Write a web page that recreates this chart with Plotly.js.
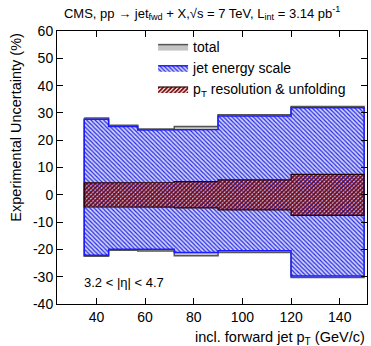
<!DOCTYPE html>
<html>
<head>
<meta charset="utf-8">
<script src="https://cdn.plot.ly/plotly-3.0.1.min.js"></script>
<style>html,body{margin:0;padding:0;background:#fff;}#chart{width:371px;height:346px;}</style>
</head>
<body>
<div id="chart"></div>
<script>
// Bin edges of incl. forward jet pT (GeV/c)
var binEdges = [35, 45, 57, 72, 90, 120, 150];
// Total experimental uncertainty (%)
var totalUp   = [28.1, 25.5, 24.1, 25.0, 29.3, 32.3];
var totalDown = [-22.5, -20.3, -20.6, -22.3, -21.1, -30.3];
// Jet energy scale uncertainty (%)
var jesUp     = [27.7, 25.0, 23.7, 23.9, 28.9, 31.9];
var jesDown   = [-22.1, -19.9, -19.9, -21.1, -20.5, -29.7];
// pT resolution & unfolding uncertainty (%)
var resUp     = [4.4, 4.4, 4.5, 4.8, 5.5, 7.5];
var resDown   = [-4.4, -4.4, -4.5, -4.8, -5.5, -7.5];

var seriesNames = ['total', 'jet energy scale', 'p<sub>T</sub> resolution &amp; unfolding'];
var yTickVals = [-40, -30, -20, -10, 0, 10, 20, 30, 40, 50, 60];
var yTickText = ['-40', '-30', '-20', '-10', '0', '10', '20', '30', '40', '50', '60'];
var xTickVals = [40, 60, 80, 100, 120, 140];
var xTickText = ['40', '60', '80', '100', '120', '140'];

function bandPolygon(edges, lo, hi) {
  var xs = [], ys = [];
  for (var i = 0; i < hi.length; i++) {
    xs.push(edges[i], edges[i + 1]);
    ys.push(hi[i], hi[i]);
  }
  for (var j = lo.length - 1; j >= 0; j--) {
    xs.push(edges[j + 1], edges[j]);
    ys.push(lo[j], lo[j]);
  }
  xs.push(xs[0]); ys.push(ys[0]);
  return {x: xs, y: ys};
}

var pTot = bandPolygon(binEdges, totalDown, totalUp);
var pJes = bandPolygon(binEdges, jesDown, jesUp);
var pRes = bandPolygon(binEdges, resDown, resUp);

var FONT = 'Liberation Sans, Arial, sans-serif';

var traces = [
  {
    x: pTot.x, y: pTot.y, type: 'scatter', mode: 'lines', fill: 'toself',
    name: seriesNames[0],
    fillcolor: '#c4c4c4',
    line: {color: '#555555', width: 1.5},
    hoverinfo: 'skip'
  },
  {
    x: pJes.x, y: pJes.y, type: 'scatter', mode: 'lines', fill: 'toself',
    name: seriesNames[1],
    fillcolor: '#c5cbf3',
    fillpattern: {shape: '\\', fgcolor: '#2a2ae6', bgcolor: '#cfd3f6', size: 3, solidity: 0.4, fillmode: 'replace'},
    line: {color: '#1c1cff', width: 1.5},
    hoverinfo: 'skip'
  },
  {
    x: pRes.x, y: pRes.y, type: 'scatter', mode: 'lines', fill: 'toself',
    name: seriesNames[2],
    fillcolor: 'rgba(0,0,0,0)',
    fillpattern: {shape: '/', fgcolor: '#7a0606', bgcolor: 'rgba(0,0,0,0)', size: 3, solidity: 0.6, fillmode: 'replace'},
    line: {color: '#2a0505', width: 1.2},
    hoverinfo: 'skip'
  }
];

var layout = {
  width: 371, height: 346,
  margin: {l: 57, r: 4, t: 31, b: 42, pad: 0},
  paper_bgcolor: '#ffffff', plot_bgcolor: '#ffffff',
  font: {family: FONT, color: '#000000', size: 14},
  showlegend: true,
  title: {
    text: 'CMS, pp \u2192 jet<sub>fwd</sub> + X,\u221As = 7 TeV, L<sub>int</sub> = 3.14 pb<sup>-1</sup>',
    font: {family: FONT, size: 13, color: '#000'},
    x: 0.545, xanchor: 'center', xref: 'container',
    y: 0.962, yanchor: 'middle', yref: 'container'
  },
  xaxis: {
    range: [23.8, 151.2],
    tickvals: xTickVals, ticktext: xTickText,
    ticks: 'inside', ticklen: 6, tickwidth: 1, tickcolor: '#000',
    showline: true, linecolor: '#000', linewidth: 1, mirror: 'ticks',
    showgrid: false, zeroline: false,
    tickfont: {family: FONT, size: 14, color: '#000'}
  },
  yaxis: {
    range: [-40, 60],
    tickvals: yTickVals, ticktext: yTickText,
    ticks: 'inside', ticklen: 6, tickwidth: 1, tickcolor: '#000',
    showline: true, linecolor: '#000', linewidth: 1, mirror: 'ticks',
    showgrid: false, zeroline: false,
    tickfont: {family: FONT, size: 14, color: '#000'}
  },
  legend: {
    x: 0.31, xanchor: 'left', y: 1.0, yanchor: 'top',
    bgcolor: 'rgba(0,0,0,0)', borderwidth: 0,
    font: {family: FONT, size: 14, color: '#000'},
    traceorder: 'normal', itemwidth: 30, tracegroupgap: 0
  },
  annotations: [
    {
      text: 'Experimental Uncertainty (%)', textangle: -90,
      xref: 'paper', yref: 'paper', x: -0.135, y: 1.0,
      xanchor: 'center', yanchor: 'top', showarrow: false,
      font: {family: FONT, size: 14.5, color: '#000'}
    },
    {
      text: 'incl. forward jet p<sub>T</sub> (GeV/c)',
      xref: 'paper', yref: 'paper', x: 1.0, y: -0.085,
      xanchor: 'right', yanchor: 'top', showarrow: false,
      font: {family: FONT, size: 14.5, color: '#000'}
    },
    {
      text: '3.2 &lt; |\u03B7| &lt; 4.7',
      xref: 'paper', yref: 'paper', x: 0.08, y: 0.08,
      xanchor: 'left', yanchor: 'middle', showarrow: false,
      font: {family: FONT, size: 13, color: '#000'}
    }
  ]
};

Plotly.newPlot('chart', traces, layout, {staticPlot: true, displayModeBar: false});
</script>
</body>
</html>
